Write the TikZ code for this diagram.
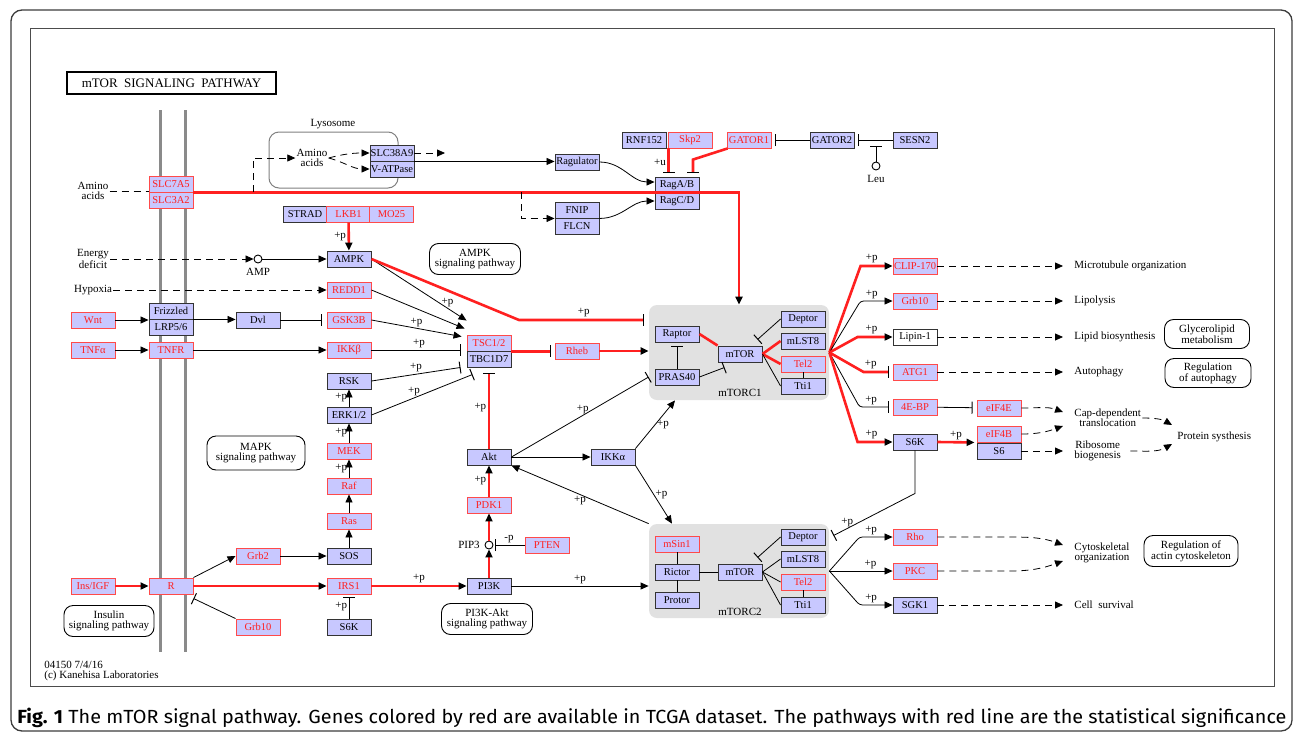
\documentclass[tikz,border=0pt]{standalone}
\usepackage{fontspec}
\usepackage{graphicx}
\setmainfont{Liberation Serif}
\newfontfamily\capfont{Fira Sans}
\usetikzlibrary{arrows.meta,positioning,calc}
\definecolor{keggblue}{HTML}{C8C8FF}
\definecolor{keggred}{HTML}{FF2020}
\definecolor{boxred}{HTML}{FF4A4A}
\definecolor{cplxgray}{HTML}{E1E1E1}
\definecolor{membgray}{HTML}{8A8A8A}
\definecolor{framegray}{HTML}{3C3C3C}

\newcommand\genefont{\fontsize{10.5}{11}\selectfont}
\newcommand\labfont{\fontsize{11}{10}\selectfont}
\newsavebox\capbox
\newlength\capwd
\AtBeginDocument{%
  \sbox\capbox{\capfont\fontsize{19}{21}\selectfont\textbf{Fig. 1} The mTOR signal pathway. Genes colored by red are available in TCGA dataset. The pathways with red line are the statistical significance}%
  \setlength\capwd{\wd\capbox}}

\tikzset{
  gene/.style={draw=black!80,fill=keggblue,line width=0.9pt,minimum width=44pt,minimum height=16pt,inner sep=0pt,font=\genefont},
  rgene/.style={gene,draw=boxred,text=keggred},
  cplx/.style={fill=cplxgray,rounded corners=8pt,inner sep=0pt},
  cpd/.style={circle,draw,fill=white,minimum size=8pt,inner sep=0pt,line width=0.9pt},
  pathbox/.style={draw,rounded corners=9pt,align=center,inner sep=0pt,font=\labfont,line width=0.9pt},
  txt/.style={align=center,inner sep=1pt,font=\labfont},
  plab/.style={font=\labfont,inner sep=1.5pt,text=black},
  act/.style={-{Triangle[length=8pt,width=7pt,color=black]}},
  inh/.style={-{Bar[width=12pt,line width=1pt,color=black]}},
  rline/.style={keggred,line width=2.6pt},
  dline/.style={dash pattern=on 7pt off 5pt}
}

\begin{document}
\begin{tikzpicture}[x=1pt,y=-1pt,line width=0.8pt]
\pgfmathsetmacro\capsx{1269/\capwd}

\useasboundingbox (0,0) rectangle (1295,734);
\fill[white] (0,0) rectangle (1295,734);
\draw[framegray,line width=1.3pt,rounded corners=11pt] (11,10) rectangle (1292,731);
\draw[black!70,line width=1pt] (30,28) rectangle (1274,686);

% membrane
\draw[membgray,line width=3pt] (160,110) -- (160,652);
\draw[membgray,line width=3pt] (185,110) -- (185,652);

% complexes and lysosome
\node[cplx,minimum width=180pt,minimum height=95pt] (cOne) at (739,352.5) {};
\node[cplx,minimum width=180pt,minimum height=94pt] (cTwo) at (739,571) {};
\node[txt] (cOneLab) at (740,393) {mTORC1};
\node[txt] (cTwoLab) at (740,612) {mTORC2};
\node[draw=black!50,rounded corners=10pt,line width=1pt,minimum width=129pt,minimum height=56pt] (lyso) at (333.5,160) {};
\node[txt] (lysLab) at (333,124) {Lysosome};

% title
\node[draw,line width=2pt,minimum width=209pt,minimum height=22pt,inner sep=0pt,font=\fontsize{13}{13}\selectfont] (title) at (171.5,83) {mTOR\ \ SIGNALING\ \ PATHWAY};

% genes: left
\node[rgene] (slcA) at (171,184) {SLC7A5};
\node[rgene] (slcB) at (171,200) {SLC3A2};
\node[gene] (fzd) at (171,311) {Frizzled};
\node[gene] (lrp) at (171,327) {LRP5/6};
\node[rgene] (wnt) at (93,320) {Wnt};
\node[rgene] (tnfa) at (93,350) {TNFα};
\node[rgene] (tnfr) at (171,350) {TNFR};
\node[gene] (dvl) at (258,320) {Dvl};
\node[rgene] (insigf) at (93,586) {Ins/IGF};
\node[rgene] (rec) at (171,586) {R};
\node[rgene] (grbTwo) at (258,556) {Grb2};
\node[rgene] (grbTen) at (258,627) {Grb10};

% genes: lysosome / Rag
\node[gene] (slc38) at (392,153) {SLC38A9};
\node[gene] (vatp) at (392,169) {V-ATPase};
\node[gene] (ragu) at (577,162) {Ragulator};
\node[gene] (ragab) at (677,185) {RagA/B};
\node[gene] (ragcd) at (677,201) {RagC/D};
\node[gene] (fnip) at (577,210) {FNIP};
\node[gene] (flcn) at (577,226) {FLCN};
\node[gene] (rnf) at (644,140) {RNF152};
\node[rgene] (skp) at (690,140) {Skp2};
\node[rgene] (gatorA) at (749,140) {GATOR1};
\node[gene] (gatorB) at (832,140) {GATOR2};
\node[gene] (sesn) at (915,140) {SESN2};
\node[cpd] (leu) at (876,166) {};
\node[txt] (leuLab) at (876,179) {Leu};

% genes: middle column
\node[gene] (strad) at (305,214) {STRAD};
\node[rgene] (lkb) at (348.5,214) {LKB1};
\node[rgene] (mo25) at (391.5,214) {MO25};
\node[gene] (ampk) at (349,259) {AMPK};
\node[rgene] (redd) at (349,290) {REDD1};
\node[rgene] (gsk) at (349,320) {GSK3B};
\node[rgene] (ikkb) at (349,350) {IKKβ};
\node[gene] (rsk) at (349,381) {RSK};
\node[gene] (erk) at (349,415) {ERK1/2};
\node[rgene] (mek) at (349,451) {MEK};
\node[rgene] (raf) at (349,486) {Raf};
\node[rgene] (ras) at (349,521) {Ras};
\node[gene] (sos) at (349,556) {SOS};
\node[rgene] (irs) at (349,586) {IRS1};
\node[gene] (s6kL) at (349,627) {S6K};
\node[cpd] (amp) at (258,259) {};
\node[txt] (ampLab) at (258,272) {AMP};

% genes: Akt column
\node[rgene] (tsc) at (489,343) {TSC1/2};
\node[gene] (tbc) at (489,359) {TBC1D7};
\node[rgene] (rheb) at (577,351) {Rheb};
\node[gene] (akt) at (489,457) {Akt};
\node[gene] (ikka) at (613,457) {IKKα};
\node[rgene] (pdk) at (489,505) {PDK1};
\node[cpd] (pip) at (489,545) {};
\node[txt] (pipLab) at (469,545) {PIP3};
\node[rgene] (pten) at (547,545) {PTEN};
\node[gene] (pi3k) at (489,586) {PI3K};

% mTORC1
\node[gene] (raptor) at (677,334) {Raptor};
\node[gene] (pras) at (677,377) {PRAS40};
\node[gene] (mtorA) at (740,354) {mTOR};
\node[gene] (deptorA) at (803,319) {Deptor};
\node[gene] (mlstA) at (803,341) {mLST8};
\node[rgene] (telA) at (803,364) {Tel2};
\node[gene] (ttiA) at (803,386) {Tti1};

% mTORC2
\node[rgene] (msin) at (677,544) {mSin1};
\node[gene] (rictor) at (677,572) {Rictor};
\node[gene] (protor) at (677,600) {Protor};
\node[gene] (mtorB) at (740,572) {mTOR};
\node[gene] (deptorB) at (803,537) {Deptor};
\node[gene] (mlstB) at (803,559) {mLST8};
\node[rgene] (telB) at (803,582) {Tel2};
\node[gene] (ttiB) at (803,605) {Tti1};

% targets
\node[rgene] (clip) at (915,266) {CLIP-170};
\node[rgene] (grbR) at (915,301) {Grb10};
\node[gene,fill=white] (lipin) at (915,337) {Lipin-1};
\node[rgene] (atg) at (915,372) {ATG1};
\node[rgene] (ebp) at (915,407) {4E-BP};
\node[gene] (s6kR) at (915,442) {S6K};
\node[rgene] (eife) at (999,408) {eIF4E};
\node[rgene] (eifb) at (999,434) {eIF4B};
\node[gene] (s6) at (999,451) {S6};
\node[rgene] (rho) at (915,537) {Rho};
\node[rgene] (pkc) at (915,571) {PKC};
\node[gene] (sgk) at (915,605) {SGK1};

% free texts
\node[txt] (aaOut) at (93,191) {Amino\\acids};
\node[txt] (aaIn) at (312,158) {Amino\\acids};
\node[txt] (energy) at (93,259) {Energy\\deficit};
\node[txt] (hypoxia) at (93,290) {Hypoxia};
\node[txt,anchor=west] (microT) at (1073,266) {Microtubule organization};
\node[txt,anchor=west] (lipoT) at (1073,301) {Lipolysis};
\node[txt,anchor=west] (lipidT) at (1073,337) {Lipid biosynthesis};
\node[txt,anchor=west] (autoT) at (1073,372) {Autophagy};
\node[txt,anchor=west] (capT) at (1073,418) {Cap-dependent\\translocation};
\node[txt,anchor=west] (riboT) at (1073,451) {Ribosome\\biogenesis};
\node[txt,anchor=west] (protT) at (1176,437) {Protein systhesis};
\node[txt,anchor=west] (cytoT) at (1073,553) {Cytoskeletal\\organization};
\node[txt,anchor=west] (survT) at (1073,605) {Cell\ \ survival};
\node[txt,anchor=west,align=left] (credit) at (43,671) {04150 7/4/16\\(c) Kanehisa Laboratories};

% pathway maps
\node[pathbox,minimum width=91pt,minimum height=31pt] (ampkPath) at (475,259) {AMPK\\signaling pathway};
\node[pathbox,minimum width=98pt,minimum height=34pt] (mapkPath) at (256,453) {MAPK\\signaling pathway};
\node[pathbox,minimum width=90pt,minimum height=31pt] (insPath) at (109,621) {Insulin\\signaling pathway};
\node[pathbox,minimum width=91pt,minimum height=31pt] (pikPath) at (487,619) {PI3K-Akt\\signaling pathway};
\node[pathbox,minimum width=85pt,minimum height=29pt] (glyPath) at (1207,334) {Glycerolipid\\metabolism};
\node[pathbox,minimum width=86pt,minimum height=29pt] (autoPath) at (1208,373) {Regulation\\of autophagy};
\node[pathbox,minimum width=94pt,minimum height=31pt] (actinPath) at (1191,551) {Regulation of\\actin cytoskeleton};

% amino acids and Rag
\draw[dline] (aaOut.east) -- (aaOut.east -| slcA.west);
\draw[rline,act] (slcA.south east) -- (slcA.south east -| cOne.north) -- (cOne.north);
\coordinate (lysTap) at (253,192);
\draw[dline,act] (lysTap) |- (aaIn.west);
\draw[dline,act] (aaIn.east) to[out=15,in=180] (slc38.west);
\draw[dline,act] (aaIn.east) to[out=-15,in=180] (vatp.west);
\coordinate (slcOut) at (445,153);
\draw[dline,act] (slc38.east) -- (slcOut);
\draw[act] (slc38.south east) -- (slc38.south east -| ragu.west);
\draw[act] (ragu.east) to[out=0,in=180] ([yshift=3pt]ragab.west);
\coordinate (fnTap) at (521,192);
\draw[dline,act] (fnTap) |- (fnip.south west);
\draw[act] (fnip.south east) to[out=0,in=180] (ragcd.west);
\draw[rline,inh,shorten >=4pt] ([xshift=1pt]skp.south west) -- node[plab,left]{+u} ([xshift=1pt]skp.south west |- ragab.north);
\draw[rline,inh,shorten >=4pt] ([xshift=1pt]gatorA.south west) -- ([xshift=16pt,yshift=17pt]ragab.north) -- ([xshift=16pt]ragab.north);
\draw[inh,shorten >=4pt] (gatorB) -- (gatorA);
\draw[inh,shorten >=4pt] (sesn) -- (gatorB);
\draw[inh,shorten >=6pt] (leu.north) -- (leu.north |- sesn.west);

% AMPK, Wnt, TNF
\draw[rline,act] (lkb) -- node[plab,left]{+p} (ampk);
\draw[dline,act] (energy.east) -- (amp.west);
\draw[act] (amp) -- (ampk);
\draw[dline,act] (hypoxia) -- (redd);
\draw[act] (wnt) -- (wnt -| fzd.west);
\draw[act] (fzd.south east) -- (fzd.south east -| dvl.west);
\draw[inh,shorten >=5pt] (dvl) -- (gsk);
\draw[act] (tnfa) -- (tnfr);
\draw[act] (tnfr) -- (ikkb);

% into TSC
\draw[act] (ampk.east) -- node[plab,above,pos=0.8]{+p} ([yshift=14pt]tsc.north west);
\draw[act] (redd.east) -- ([xshift=-2pt,yshift=6pt]tsc.north west);
\draw[act] (gsk.east) -- node[plab,above]{+p} ([xshift=-5pt,yshift=-2pt]tsc.north west);
\draw[inh,shorten >=6pt] (ikkb.east) -- node[plab,above]{+p} (ikkb.east -| tsc.west);
\draw[inh] (rsk.east) -- node[plab,above]{+p} ([xshift=-6pt]tbc.south west);
\draw[inh] (erk.east) -- node[plab,above,pos=0.42]{+p} ([xshift=6pt,yshift=-7pt]tbc.south west);

% MAPK chain
\draw[act] (erk) -- node[plab,left]{+p} (rsk);
\draw[act] (mek) -- node[plab,left]{+p} (erk);
\draw[act] (raf) -- node[plab,left]{+p} (mek);
\draw[act] (ras) -- (raf);
\draw[act] (sos) -- (ras);
\draw[inh,shorten >=3pt] (s6kL) -- node[plab,left]{+p} (irs);

% insulin and PI3K-Akt
\draw[rline,act] (insigf) -- (rec);
\draw[rline,act] (rec) -- (irs);
\draw[act] (rec.north east) -- (grbTwo.west);
\draw[act] (grbTwo) -- (sos);
\draw[inh] (grbTen.north west) -- ([yshift=-4pt]rec.south east);
\draw[rline,act] (irs) -- node[plab,above]{+p} (pi3k);
\draw[rline,act] (pi3k) -- (pip);
\draw[rline,act] (pip) -- (pdk);
\draw[inh,shorten >=2pt] (pten) -- node[plab,above]{-p} (pip);
\draw[rline,act] (pdk) -- node[plab,left]{+p} (akt);
\draw[rline,inh,shorten >=6pt] (akt) -- node[plab,left]{+p} (tbc);
\draw[rline,inh,shorten >=4pt] (tsc.south east) -- (tsc.south east -| rheb.west);
\draw[rline,act] (rheb) -- (rheb -| cOne.west);
\coordinate (ampkBend) at (519,320);
\draw[rline,inh,shorten >=5pt] (ampk.east) -- (ampkBend) -- node[plab,above]{+p} (ampkBend -| cOne.west);

% inside mTORC1
\draw[rline] (raptor.east) -- (mtorA.north west);
\draw[inh,shorten >=4pt] (pras) -- (raptor);
\draw[inh] (pras.east) -- ([xshift=7pt,yshift=-5pt]mtorA.south west);
\draw[inh] (deptorA.west) -- ([xshift=-5pt,yshift=6pt]mtorA.north east);
\draw[rline] (mtorA.east) -- (mlstA.west);
\draw[rline] (mtorA.east) -- (telA.west);
\draw (mtorA.east) -- (ttiA.west);
\draw (telA) -- (ttiA);

% Akt and IKK
\draw[inh] (akt.east) -- node[plab,above,pos=0.52]{+p} (pras.west -| cOne.west);
\draw[act] (akt) -- (ikka);
\draw[act] (ikka.north east) -- node[plab,right]{+p} ([xshift=-64pt]cOne.south);
\draw[act] (ikka.south east) -- node[plab,right]{+p} ([xshift=-67pt]cTwo.north);
\draw[act] (cTwo.north west) -- node[plab,below]{+p} (akt.south east);
\draw[act] (pi3k) -- node[plab,above]{+p} (pi3k -| cTwo.west);

% inside mTORC2
\draw (msin) -- (rictor);
\draw (rictor) -- (protor);
\draw (rictor) -- (mtorB);
\draw[inh] (deptorB.west) -- ([xshift=-5pt,yshift=6pt]mtorB.north east);
\draw (mtorB.east) -- (mlstB.west);
\draw (mtorB.east) -- (telB.west);
\draw (mtorB.east) -- (ttiB.west);
\draw (telB) -- (ttiB);
\draw[inh] (s6kR.south) -- ([yshift=-43pt]s6kR.south) -- node[plab,above,pos=0.83]{+p} ([xshift=4pt,yshift=-12pt]cTwo.north east);

% mTORC1 targets
\draw[rline,act] (cOne.east) -- ([xshift=-32pt]clip.west) -- node[plab,above,pos=0.35]{+p} (clip.west);
\draw[act,rounded corners=3pt] (cOne.east) -- ([xshift=-32pt]grbR.west) -- node[plab,above,pos=0.35]{+p} (grbR.west);
\draw[rline,act] (cOne.east) -- ([xshift=-35pt]lipin.west) -- node[plab,above,pos=0.4]{+p} (lipin.west);
\draw[rline,inh,shorten >=4pt] (cOne.east) -- ([xshift=-29pt]atg.west) -- node[plab,above,pos=0.25]{+p} (atg.west);
\draw[inh,shorten >=4pt,rounded corners=3pt] (cOne.east) -- ([xshift=-33pt]ebp.west) -- node[plab,above,pos=0.35]{+p} (ebp.west);
\draw[rline,act] (cOne.east) -- ([xshift=-35pt]s6kR.west) -- node[plab,above,pos=0.4]{+p} (s6kR.west);

% mTORC2 targets
\draw[act,rounded corners=3pt] (cTwo.east) -- ([xshift=-33pt]rho.west) -- node[plab,above,pos=0.35]{+p} (rho.west);
\draw[act] (cTwo.east) -- node[plab,above,pos=0.65]{+p} (pkc.west);
\draw[act,rounded corners=3pt] (cTwo.east) -- ([xshift=-33pt]sgk.west) -- node[plab,above,pos=0.35]{+p} (sgk.west);

% outputs
\draw[dline,act] (clip) -- ([xshift=-10pt]microT.west);
\draw[dline,act] (grbR) -- ([xshift=-10pt]lipoT.west);
\draw[dline,act] (lipin) -- ([xshift=-10pt]lipidT.west);
\draw[dline,act] (atg) -- ([xshift=-10pt]autoT.west);
\draw[inh,shorten >=4pt] (ebp) -- (eife);
\draw[rline,act] (s6kR.east) -- node[plab,above]{+p} ([xshift=-2pt]eifb.south west);
\draw[dline,act] (eife.east) to[out=0,in=160] ([xshift=-10pt,yshift=6pt]capT.west);
\draw[dline,act] (eifb.east) to[out=0,in=200] ([xshift=-10pt,yshift=-8pt]capT.west);
\draw[dline,act] (s6) -- ([xshift=-10pt]riboT.west);
\draw[dline,act] (capT.east) to[out=0,in=150] ([xshift=-4pt,yshift=12pt]protT.west);
\draw[dline,act] ([xshift=8pt]riboT.east) to[out=0,in=210] ([xshift=-4pt,yshift=-7pt]protT.west);
\draw[dline,act] (rho.east) -- ([xshift=72pt]rho.east) to[out=0,in=160] ([xshift=-10pt,yshift=8pt]cytoT.west);
\draw[dline,act] (pkc.east) -- ([xshift=72pt]pkc.east) to[out=0,in=200] ([xshift=-10pt,yshift=-8pt]cytoT.west);
\draw[dline,act] (sgk) -- ([xshift=-10pt]survT.west);

% caption
\node[anchor=west,inner sep=0pt] (caption) at (17,718) {\scalebox{\capsx}[1]{\usebox\capbox}};
\end{tikzpicture}
\end{document}
